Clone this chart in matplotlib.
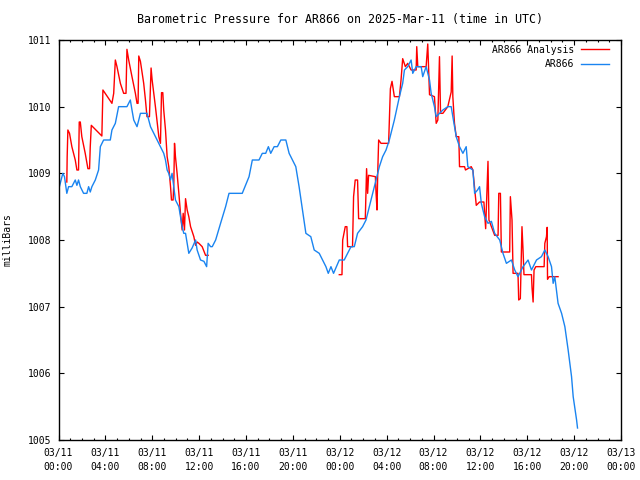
import numpy as np
import matplotlib
matplotlib.use("Agg")
import matplotlib.pyplot as plt
from matplotlib.ticker import MultipleLocator

# hours since 2025-03-11 00:00 UTC
obs_hours = [0.09, 0.37, 0.51, 0.71, 0.86, 1.14, 1.43, 1.57, 1.71, 1.86, 2.14, 2.42, 2.57, 2.71, 2.85,
             3.14, 3.42, 3.57, 3.85, 4.42, 4.56, 4.85, 5.13, 5.84, 6.13, 6.27, 6.42, 6.70, 6.85, 6.99,
             7.55, 7.85, 8.13, 8.41, 8.70, 8.98, 9.13, 9.27, 9.41, 9.56, 9.69, 9.98, 10.27, 10.55, 10.69,
             10.84, 11.12, 11.40, 11.70, 11.83, 12.12, 12.41, 12.64, 12.77, 12.98, 13.12, 13.41, 13.83,
             14.26, 14.55, 15.68, 16.26, 16.54, 17.11, 17.39, 17.68, 17.91, 18.11, 18.40, 18.68, 18.97,
             19.40, 19.68, 19.96, 20.25, 20.53, 20.82, 21.11, 21.53, 21.82, 22.25, 22.53, 22.82, 23.02,
             23.25, 23.47, 23.96, 24.38, 24.67, 24.96, 25.24, 25.52, 25.95, 26.24, 26.67, 27.10, 27.38,
             27.66, 27.95, 28.23, 28.66, 29.09, 29.37, 29.52, 29.80, 30.09, 30.23, 30.52, 30.95, 31.08,
             31.37, 31.66, 31.80, 32.08, 32.23, 32.51, 32.80, 33.22, 33.51, 33.65, 33.94, 34.22, 34.51,
             34.79, 34.93, 35.36, 35.51, 35.76, 35.93, 36.08, 36.36, 36.65, 36.94, 37.22, 37.65, 37.93,
             38.22, 38.65, 38.93, 39.21, 39.64, 40.07, 40.36, 40.79, 41.21, 41.50, 41.64, 41.78, 42.07,
             42.21, 42.35, 42.63, 42.93, 43.21, 43.49, 43.78, 43.92, 44.21, 44.29]
obs_mb = [1008.81, 1009.0, 1008.95, 1008.7, 1008.8, 1008.8, 1008.9, 1008.82, 1008.9, 1008.8, 1008.7,
          1008.7, 1008.8, 1008.72, 1008.8, 1008.9, 1009.05, 1009.4, 1009.5, 1009.5, 1009.65, 1009.75,
          1010.0, 1010.0, 1010.1, 1009.95, 1009.8, 1009.7, 1009.8, 1009.9, 1009.9, 1009.7, 1009.6,
          1009.5, 1009.4, 1009.3, 1009.2, 1009.05, 1009.0, 1008.9, 1009.0, 1008.6, 1008.5, 1008.2,
          1008.1, 1008.1, 1007.8, 1007.88, 1008.0, 1007.85, 1007.7, 1007.68, 1007.6, 1007.95, 1007.9,
          1007.9, 1008.0, 1008.25, 1008.5, 1008.7, 1008.7, 1008.95, 1009.2, 1009.2, 1009.3, 1009.3,
          1009.4, 1009.3, 1009.4, 1009.4, 1009.5, 1009.5, 1009.3, 1009.2, 1009.1, 1008.8, 1008.45,
          1008.1, 1008.05, 1007.85, 1007.8, 1007.7, 1007.6, 1007.5, 1007.6, 1007.5, 1007.7, 1007.7,
          1007.8, 1007.9, 1007.9, 1008.1, 1008.2, 1008.3, 1008.6, 1008.9, 1009.1, 1009.25, 1009.35,
          1009.5, 1009.8, 1010.15, 1010.35, 1010.55, 1010.6, 1010.7, 1010.5, 1010.6, 1010.6, 1010.45,
          1010.6, 1010.4, 1010.2, 1010.0, 1009.85, 1009.9, 1009.95, 1010.0, 1010.0, 1009.85, 1009.55,
          1009.4, 1009.3, 1009.4, 1009.1, 1009.05, 1008.7, 1008.75, 1008.8, 1008.55, 1008.35, 1008.25,
          1008.28, 1008.1, 1008.0, 1007.8, 1007.65, 1007.7, 1007.55, 1007.45, 1007.6, 1007.7, 1007.55,
          1007.7, 1007.75, 1007.85, 1007.8, 1007.75, 1007.6, 1007.35, 1007.45, 1007.05, 1006.9, 1006.7,
          1006.35, 1005.95, 1005.65, 1005.3, 1005.18]

# analysis series; None marks the gap with no analysis
ana_hours = [0.71, 0.74, 0.80, 0.94, 1.14, 1.43, 1.57, 1.71, 1.77, 1.86, 1.99, 2.28, 2.51, 2.65, 2.71,
             2.80, 3.70, 3.79, 4.56, 4.71, 4.85, 4.99, 5.28, 5.56, 5.76, 5.84, 5.99, 6.27, 6.56, 6.70,
             6.79, 6.85, 6.99, 7.27, 7.42, 7.55, 7.76, 7.90, 7.99, 8.13, 8.27, 8.56, 8.70, 8.79, 8.90,
             8.98, 9.13, 9.27, 9.41, 9.56, 9.64, 9.78, 9.84, 9.90, 9.98, 10.12, 10.27, 10.41, 10.55,
             10.64, 10.75, 10.84, 10.98, 11.12, 11.27, 11.55, 11.70, 11.83, 11.98, 12.26, 12.55, 12.77,
             18.0,
             23.96, 24.19, 24.25, 24.47, 24.61, 24.67, 25.09, 25.18, 25.32, 25.52, 25.61, 26.18, 26.29,
             26.38, 26.46, 27.04, 27.10, 27.18, 27.24, 27.32, 27.52, 28.17, 28.23, 28.32, 28.46, 28.66,
             29.09, 29.23, 29.37, 29.60, 29.80, 30.09, 30.52, 30.57, 30.66, 31.37, 31.51, 31.59, 31.66,
             32.08, 32.23, 32.37, 32.51, 32.60, 32.80, 33.22, 33.51, 33.59, 33.65, 33.79, 33.94, 34.16,
             34.22, 34.65, 34.73, 35.22, 35.36, 35.65, 35.93, 36.30, 36.45, 36.65, 36.73, 37.22, 37.51,
             37.57, 37.71, 37.79, 38.50, 38.56, 38.70, 38.79, 39.21, 39.27, 39.41, 39.55, 39.64, 39.72,
             40.36, 40.41, 40.50, 40.58, 40.73, 41.44, 41.50, 41.64, 41.70, 41.73, 41.87, 42.63]
ana_mb = [1008.87, 1009.25, 1009.65, 1009.6, 1009.4, 1009.2, 1009.05, 1009.05, 1009.77, 1009.77,
          1009.55, 1009.3, 1009.07, 1009.07, 1009.4, 1009.72, 1009.56, 1010.25, 1010.05, 1010.2,
          1010.7, 1010.6, 1010.35, 1010.2, 1010.2, 1010.86, 1010.7, 1010.45, 1010.2, 1010.05, 1010.05,
          1010.76, 1010.68, 1010.35, 1010.1, 1009.85, 1009.85, 1010.58, 1010.4, 1010.2, 1010.0,
          1009.55, 1009.45, 1010.21, 1010.21, 1009.95, 1009.65, 1009.25, 1009.1, 1008.8, 1008.6,
          1008.6, 1008.85, 1009.45, 1009.25, 1009.0, 1008.7, 1008.4, 1008.15, 1008.4, 1008.15,
          1008.62, 1008.45, 1008.35, 1008.2, 1008.05, 1007.92, 1007.97, 1007.95, 1007.9, 1007.77,
          1007.77,
          None,
          1007.48, 1007.48, 1008.0, 1008.2, 1008.2, 1007.9, 1007.9, 1008.65, 1008.9, 1008.9, 1008.32,
          1008.32, 1009.07, 1008.7, 1008.97, 1008.95, 1008.7, 1008.45, 1009.0, 1009.5, 1009.45,
          1009.45, 1009.8, 1010.27, 1010.38, 1010.15, 1010.15, 1010.4, 1010.72, 1010.6, 1010.65,
          1010.55, 1010.55, 1010.9, 1010.6, 1010.6, 1010.94, 1010.55, 1010.18, 1010.15, 1009.75,
          1009.8, 1010.75, 1009.9, 1009.9, 1010.0, 1010.22, 1010.76, 1010.15, 1009.75, 1009.55,
          1009.55, 1009.1, 1009.1, 1009.05, 1009.1, 1009.05, 1008.52, 1008.57, 1008.57, 1008.17,
          1009.18, 1008.3, 1008.07, 1008.07, 1008.7, 1008.7, 1007.82, 1007.82, 1008.65, 1008.3,
          1007.5, 1007.5, 1007.1, 1007.12, 1008.2, 1007.85, 1007.48, 1007.48, 1007.28, 1007.07,
          1007.55, 1007.6, 1007.6, 1007.95, 1008.05, 1008.19, 1007.41, 1007.45, 1007.45]

tick_hours = [0, 4, 8, 12, 16, 20, 24, 28, 32, 36, 40, 44, 48]
tick_labels = ["03/11\n00:00", "03/11\n04:00", "03/11\n08:00", "03/11\n12:00", "03/11\n16:00",
               "03/11\n20:00", "03/12\n00:00", "03/12\n04:00", "03/12\n08:00", "03/12\n12:00",
               "03/12\n16:00", "03/12\n20:00", "03/13\n00:00"]

plt.rcParams['font.family'] = ['DejaVu Sans Mono']
plt.rcParams['font.size'] = 7

fig = plt.figure(figsize=(6.4, 4.8), dpi=100)
ax = fig.add_axes([58.5/640, 40/480, 562.5/640, 400/480])

ana = np.array([np.nan if v is None else v for v in ana_mb], dtype=float)
ax.plot(ana_hours, ana, color='#ff0000', lw=1.0, label='AR866 Analysis')
ax.plot(obs_hours, obs_mb, color='#1a84f0', lw=1.0, label='AR866')

ax.set_xlim(0, 48)
ax.set_ylim(1005, 1011)
ax.set_xticks(tick_hours)
ax.set_xticklabels(tick_labels, linespacing=1.45)
ax.xaxis.set_minor_locator(MultipleLocator(1))
ax.set_yticks(range(1005, 1012))
ax.tick_params(direction='in', top=True, right=True, length=3.3, width=0.8, pad=5)
ax.tick_params(which='minor', direction='in', top=True, length=1.7, width=0.8)
ax.tick_params(axis='x', pad=6)
for s in ax.spines.values():
    s.set_linewidth(1.0)

ax.set_ylabel('milliBars')
ax.yaxis.set_label_coords(-46/562.5, 0.5)
ax.set_title('Barometric Pressure for AR866 on 2025-Mar-11 (time in UTC)', pad=12)

leg = ax.legend(loc='upper right', bbox_to_anchor=(1 - 8/562.5, 1 - 1/400), borderaxespad=0,
                frameon=False, markerfirst=False, handlelength=2.9, handletextpad=0.7,
                labelspacing=0.45)
for t in leg.get_texts():
    t.set_ha('right')

fig.savefig('out.png', dpi=100)
